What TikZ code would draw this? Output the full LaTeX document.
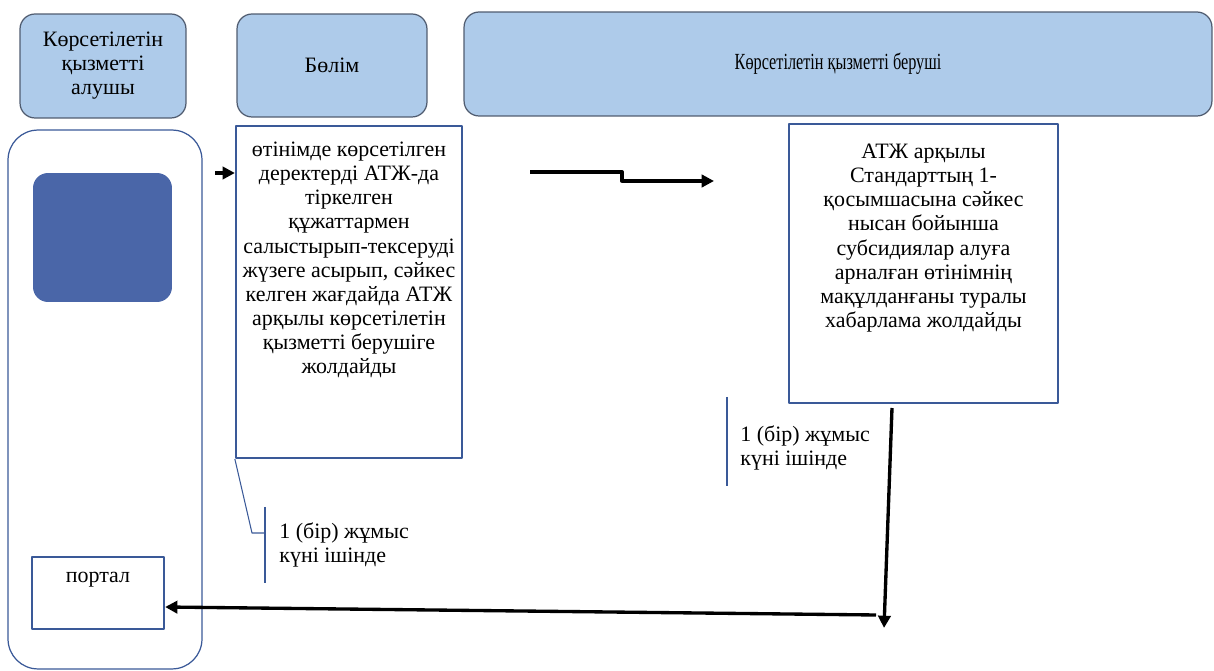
\documentclass[tikz,border=0pt]{standalone}
\usepackage{fontspec}
\setmainfont{Liberation Serif}
\usetikzlibrary{positioning,arrows.meta}
\definecolor{hdrfill}{RGB}{174,203,234}
\definecolor{hdrline}{RGB}{80,92,112}
\definecolor{boxline}{RGB}{58,89,152}
\definecolor{imgfill}{RGB}{74,102,168}
\begin{document}
\begin{tikzpicture}[x=0.02cm,y=-0.02cm,line join=round,>=stealth,
	font=\fontsize{12.5}{13.7}\selectfont,
	hdr/.style={draw=hdrline,fill=hdrfill,rounded corners=0.3cm,line width=0.7pt,align=center,inner sep=0pt},
	box/.style={draw=boxline,line width=1.3pt,inner sep=0pt},
	txt/.style={align=center,inner sep=0pt,anchor=north},
	flow/.style={-{Triangle[length=7pt,width=7pt]},line width=1.9pt,black},
	note/.style={draw=boxline,line width=0.6pt}]
	\useasboundingbox (0,0) rectangle (1214,671);
	% headers
	\path (103,66)node[hdr,minimum width=3.32cm,minimum height=2.08cm](h1){Көрсетілетін\\қызметті\\алушы}
	(332,65.5)node[hdr,minimum width=3.8cm,minimum height=2.06cm](h2){Бөлім}
	(838,64)node[hdr,minimum width=14.96cm,minimum height=2.08cm](h3){\scalebox{0.74}[1.05]{Көрсетілетін қызметті беруші}};
	% lane of the receiver
	\node[draw=boxline,line width=0.7pt,rounded corners=0.6cm,minimum width=3.88cm,minimum height=10.78cm](lane) at (105,399.5){};
	\node[fill=imgfill,rounded corners=0.3cm,minimum width=2.78cm,minimum height=2.58cm](img) at (102.5,237.5){};
	\node[box,minimum width=2.64cm,minimum height=1.44cm](portal) at (98,593){};
	\node[txt,below=0.32cm of portal.north,anchor=north](portaltxt){портал};
	% boxes
	\node[box,minimum width=4.52cm,minimum height=6.64cm](b1) at (349,292){};
	\node[txt,below=0.34cm of b1.north](b1txt){өтінімде көрсетілген\\деректерді АТЖ-да\\тіркелген\\құжаттармен\\салыстырып-тексеруді\\жүзеге асырып, сәйкес\\келген жағдайда АТЖ\\арқылы көрсетілетін\\қызметті берушіге\\жолдайды};
	\node[box,minimum width=5.38cm,minimum height=5.58cm](b2) at (923.5,263.5){};
	\node[txt,below=0.42cm of b2.north](b2txt){АТЖ арқылы\\Стандарттың 1-\\қосымшасына сәйкес\\нысан бойынша\\субсидиялар алуға\\арналған өтінімнің\\мақұлданғаны туралы\\хабарлама жолдайды};
	% time notes
	\coordinate (n1a) at (252,533);
	\coordinate (n1b) at (265,533);
	\draw[note](b1.south west)--(n1a)--(n1b);
	\draw[note](265,507)--(265,583);
	\node[anchor=west,align=left,inner sep=0pt](t1) at (279,545){1 (бір) жұмыс\\күні ішінде};
	\draw[note](727,397)--(727,486);
	\node[anchor=west,align=left,inner sep=0pt](t2) at (740,448){1 (бір) жұмыс\\күні ішінде};
	% arrows
	\coordinate (s0) at (215,173);
	\draw[flow](s0)--(b1.west|-s0);
	\coordinate (p0) at (530,172);
	\coordinate (p1) at (622,172);
	\coordinate (p2) at (622,181);
	\coordinate (p3) at (714,181);
	\draw[flow](p0)--(p1)--(p2)--(p3);
	\coordinate (d0) at (892,408);
	\coordinate (d1) at (884,628);
	\draw[flow](d0)--(d1);
	\coordinate (r0) at (876,615);
	\draw[flow](r0)--(portal.east|-0,607);
\end{tikzpicture}
\end{document}
